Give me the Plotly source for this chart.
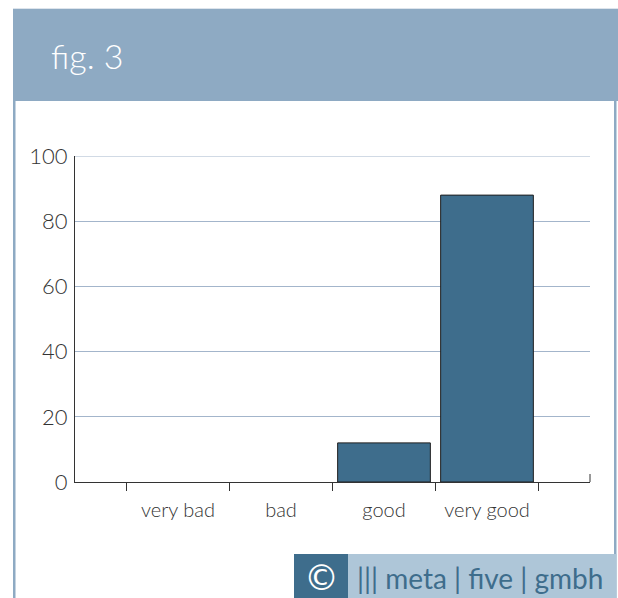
import plotly.graph_objects as go

categories = ["very bad", "bad", "good", "very good"]
values = [0, 0, 12, 88]
y_ticks = [0, 20, 40, 60, 80, 100]
title_text = "fig. 3"
footer_text = "||| meta | five | gmbh"

W, H = 618, 598
HEADER = "#8EAAC3"
BAR = "#3E6D8C"
FOOT_LIGHT = "#AEC6D8"
GRID = "#A3B5CB"
TXT = "#333333"
FONT = "Lato"

def px(x):
    return x / W

def py(y):
    return 1 - y / H

fig = go.Figure()
fig.add_trace(go.Bar(
    x=categories, y=values,
    marker=dict(color=BAR, line=dict(color="#1e1e1e", width=[1 if v > 0 else 0 for v in values])),
    hoverinfo="skip",
))

shapes = [
    dict(type="rect", xref="paper", yref="paper", x0=px(13), x1=px(618), y0=py(101), y1=py(9),
         fillcolor=HEADER, line=dict(width=0), layer="below"),
    dict(type="line", xref="paper", yref="paper", x0=px(13), x1=px(618), y0=py(8.5), y1=py(8.5),
         line=dict(color="#dde4ec", width=1), layer="below"),
    dict(type="rect", xref="paper", yref="paper", x0=px(13), x1=px(15.5), y0=py(598), y1=py(101),
         fillcolor=HEADER, line=dict(width=0), layer="below"),
    dict(type="rect", xref="paper", yref="paper", x0=px(614), x1=px(616.5), y0=py(598), y1=py(101),
         fillcolor=HEADER, line=dict(width=0), layer="below"),
    dict(type="rect", xref="paper", yref="paper", x0=px(348), x1=px(616.5), y0=py(598), y1=py(554),
         fillcolor=FOOT_LIGHT, line=dict(width=0), layer="below"),
    dict(type="rect", xref="paper", yref="paper", x0=px(294), x1=px(348), y0=py(598), y1=py(554),
         fillcolor=BAR, line=dict(width=0), layer="below"),
    dict(type="line", xref="x domain", yref="y", x0=0, x1=1, y0=y_ticks[-1], y1=y_ticks[-1],
         line=dict(color=GRID, width=1), layer="below"),
    dict(type="line", xref="paper", yref="paper", x0=px(590), x1=px(590), y0=py(482), y1=py(474),
         line=dict(color="#333333", width=1)),
]

annotations = [
    dict(text=title_text, xref="paper", yref="paper", x=px(49), y=py(56), xanchor="left", yanchor="middle",
         showarrow=False, font=dict(family=FONT, size=34, color="white", weight=300)),
    dict(text="©", xref="paper", yref="paper", x=px(321), y=py(578), xanchor="center", yanchor="middle",
         showarrow=False, font=dict(family="DejaVu Sans", size=35, color="white")),
    dict(text=footer_text, xref="paper", yref="paper", x=px(355), y=py(578), xanchor="left", yanchor="middle",
         showarrow=False, font=dict(family=FONT, size=28, color=BAR)),
]

fig.update_layout(
    width=W, height=H,
    margin=dict(l=0, r=0, t=0, b=0, autoexpand=False),
    paper_bgcolor="white", plot_bgcolor="white",
    showlegend=False,
    bargap=0.1,
    shapes=shapes,
    annotations=annotations,
    font=dict(family=FONT, color=TXT),
    xaxis=dict(
        domain=[px(75), px(590)],
        range=[-1, 4],
        type="category",
        automargin=False,
        categoryorder="array", categoryarray=categories,
        showline=True, linecolor="#333333", linewidth=1,
        ticks="outside", ticklen=8, tickcolor="#333333", tickwidth=1,
        tickson="boundaries",
        ticklabelstandoff=10,
        showgrid=False, zeroline=False,
        tickfont=dict(family=FONT, size=20, color=TXT, weight=300),
        fixedrange=True,
    ),
    yaxis=dict(
        domain=[py(482), py(156)],
        range=[0, 100],
        automargin=False,
        tickvals=y_ticks,
        showline=True, linecolor="#333333", linewidth=1,
        ticks="", ticklabelstandoff=2,
        showgrid=True, gridcolor=GRID, gridwidth=1,
        zeroline=False,
        tickfont=dict(family=FONT, size=22, color=TXT, weight=300),
        fixedrange=True,
    ),
)

fig.write_html("out.html")
